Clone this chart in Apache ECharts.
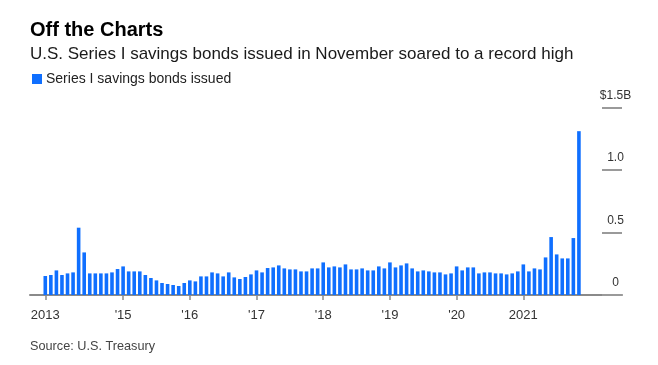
<!DOCTYPE html>
<html>
<head>
<meta charset="utf-8">
<script src="https://cdn.jsdelivr.net/npm/echarts@6/dist/echarts.min.js"></script>
<style>
html,body{margin:0;padding:0;background:#fff;}
#chart{width:658px;height:365px;}
</style>
</head>
<body>
<div id="chart"></div>
<script>
// Monthly categories: Nov 2013 .. Nov 2021
var startYear = 2013, startMonth = 11, monthCount = 97;
var months = [];
for (var k = 0; k < monthCount; k++) {
  var m = startMonth - 1 + k;
  var y = startYear + Math.floor(m / 12);
  var mm = (m % 12) + 1;
  months.push(y + '-' + (mm < 10 ? '0' + mm : mm));
}

// Series I savings bonds issued, $ billions
var issued = [
  0.152, 0.160, 0.197, 0.160, 0.173, 0.181, 0.539, 0.341, 0.173, 0.173,
  0.173, 0.173, 0.181, 0.208, 0.229, 0.189, 0.189, 0.189, 0.160,
  0.136, 0.117, 0.096, 0.088, 0.080, 0.072, 0.096, 0.117, 0.109, 0.149,
  0.149, 0.181, 0.173, 0.149, 0.181, 0.141, 0.128, 0.144, 0.165, 0.197,
  0.181, 0.216, 0.221, 0.237, 0.213, 0.205, 0.205, 0.189, 0.189, 0.213,
  0.213, 0.261, 0.221, 0.229, 0.221, 0.245, 0.205, 0.205, 0.213,
  0.197, 0.197, 0.229, 0.213, 0.261, 0.221, 0.237, 0.253, 0.213, 0.189,
  0.197, 0.189, 0.181, 0.181, 0.165, 0.173, 0.229, 0.197, 0.221, 0.221,
  0.173, 0.181, 0.181, 0.173, 0.173, 0.165, 0.173, 0.189, 0.245, 0.189,
  0.213, 0.205, 0.301, 0.464, 0.325, 0.293, 0.293, 0.456, 1.312
];

// X tick labels and the months they sit on
var tickMonths = ['2013-11', '2015-01', '2016-01', '2017-01', '2018-01', '2019-01', '2020-01', '2021-01'];
var tickLabels = ['2013', "'15", "'16", "'17", "'18", "'19", "'20", '2021'];

// Y tick labels
var yTicks = [0, 0.5, 1.0, 1.5];
var yTickLabels = ['0', '0.5', '1.0', '$1.5B'];

var tickPos = tickMonths.map(function (t) { return months.indexOf(t); });
var barData = issued.map(function (v, i) { return [i, v]; });

var chart = echarts.init(document.getElementById('chart'), null, {renderer: 'canvas'});
var font = 'Liberation Sans, Arial, Helvetica, sans-serif';
var blue = '#0f6fff';

chart.setOption({
  animation: false,
  backgroundColor: '#fff',
  textStyle: {fontFamily: font},
  title: [
    {text: 'Off the Charts', left: 25, top: 15,
     textStyle: {fontFamily: font, fontSize: 20, fontWeight: 'bold', color: '#000'}},
    {text: 'U.S. Series I savings bonds issued in November soared to a record high', left: 25, top: 41,
     textStyle: {fontFamily: font, fontSize: 17, fontWeight: 'normal', color: '#1a1a1a'}},
    {text: 'Source: U.S. Treasury', left: 25, top: 335,
     textStyle: {fontFamily: font, fontSize: 12.7, fontWeight: 'normal', color: '#444'}}
  ],
  legend: {
    left: 27, top: 67,
    icon: 'rect', itemWidth: 10, itemHeight: 10, itemGap: 10,
    textStyle: {fontFamily: font, fontSize: 14, color: '#222', padding: [0, 0, 0, -1]},
    data: ['Series I savings bonds issued']
  },
  grid: {left: 30, right: 36, top: 107.7, bottom: 70, containLabel: false},
  xAxis: {
    type: 'value',
    min: -2.75,
    max: 103.75,
    splitLine: {show: false},
    axisLine: {show: true, onZero: false, lineStyle: {color: '#8a8a8a', width: 2}},
    axisTick: {show: true, length: 5, lineStyle: {color: '#8a8a8a', width: 1.5}, customValues: tickPos},
    axisLabel: {
      show: true, margin: 14, fontSize: 13, color: '#333', fontFamily: font,
      customValues: tickPos,
      formatter: function (v) { var i = tickPos.indexOf(Math.round(v)); return i >= 0 ? tickLabels[i] : ''; }
    }
  },
  yAxis: {
    type: 'value',
    position: 'right',
    min: 0, max: 1.5, interval: 0.5,
    splitLine: {show: false},
    axisLine: {show: false, onZero: false},
    axisTick: {show: true, inside: true, length: 20, lineStyle: {color: '#9a9a9a', width: 2}},
    axisLabel: {
      inside: true, margin: 6.5, align: 'center', verticalAlign: 'bottom',
      lineHeight: 24, fontSize: 12, color: '#333', fontFamily: font,
      formatter: function (v) {
        for (var i = 0; i < yTicks.length; i++) if (Math.abs(yTicks[i] - v) < 1e-6) return yTickLabels[i];
        return '';
      }
    }
  },
  series: [{
    name: 'Series I savings bonds issued',
    type: 'bar',
    data: barData,
    barWidth: 3.6,
    itemStyle: {color: blue},
    z: 1
  }]
});
</script>
</body>
</html>
